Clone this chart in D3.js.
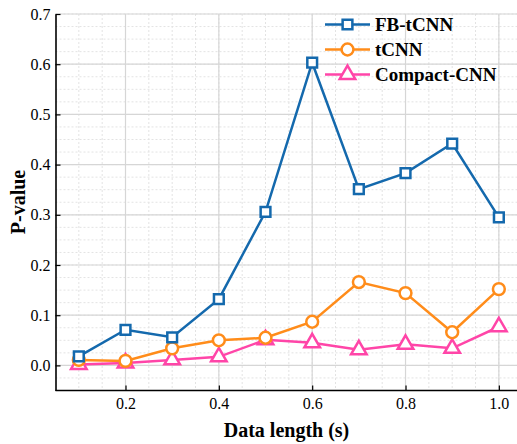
<!DOCTYPE html>
<html><head><meta charset="utf-8">
<script src="https://cdn.jsdelivr.net/npm/d3@7"></script>
<style>body{margin:0;background:#fff}svg{display:block}</style>
</head><body>
<svg id="c" width="517" height="444"></svg>
<script>
const xs = [0.1,0.2,0.3,0.4,0.5,0.6,0.7,0.8,0.9,1.0];
const fbtcnn = [0.018,0.071,0.056,0.132,0.306,0.603,0.351,0.383,0.442,0.295];
const tcnn = [0.011,0.009,0.034,0.050,0.055,0.087,0.166,0.144,0.066,0.152];
const compact = [0.002,0.005,0.011,0.017,0.051,0.045,0.031,0.042,0.034,0.077];
const seriesNames = ["FB-tCNN","tCNN","Compact-CNN"];
const colors = ["#1469ad","#ff8c1a","#ff45a8"];
const xTicks = [0.2,0.4,0.6,0.8,1.0];
const yTicks = [0.0,0.1,0.2,0.3,0.4,0.5,0.6,0.7];

const svg = d3.select("#c");
const L=55.5, T=14, B=390.5;
const x = d3.scaleLinear().domain([0.05,1.05]).range([L, L+466.7]);
const y = d3.scaleLinear().domain([-0.05,0.7]).range([B, T]);
const R = 517;
const font = "'Liberation Serif','Times New Roman',serif";

// minor grid
const g = svg.append("g");
d3.range(0.1,1.06,0.05).forEach(v=>{
  g.append("line").attr("x1",x(v)).attr("x2",x(v)).attr("y1",T).attr("y2",B)
   .attr("stroke","#e3e3e3").attr("stroke-width",1).attr("stroke-dasharray","2,2");});
d3.range(-0.025,0.7001,0.025).forEach(v=>{
  g.append("line").attr("x1",L).attr("x2",R).attr("y1",y(v)).attr("y2",y(v))
   .attr("stroke","#e3e3e3").attr("stroke-width",1).attr("stroke-dasharray","2,2");});
// major grid
xTicks.forEach(v=>g.append("line").attr("x1",x(v)).attr("x2",x(v)).attr("y1",T).attr("y2",B)
  .attr("stroke","#d6d6d6").attr("stroke-width",1.2));
yTicks.forEach(v=>g.append("line").attr("x1",L).attr("x2",R).attr("y1",y(v)).attr("y2",y(v))
  .attr("stroke","#d6d6d6").attr("stroke-width",1.2));

// axes
const xa = svg.append("g").attr("transform",`translate(0,${B})`)
  .call(d3.axisBottom(x).tickValues(xTicks).tickFormat(d3.format(".1f")).tickSizeInner(-5).tickSizeOuter(0).tickPadding(7));
const ya = svg.append("g").attr("transform",`translate(${L},0)`)
  .call(d3.axisLeft(y).tickValues(yTicks).tickFormat(d3.format(".1f")).tickSizeInner(-5).tickSizeOuter(0).tickPadding(5));
[xa,ya].forEach(a=>{
  a.select(".domain").attr("stroke","#000").attr("stroke-width",1.6);
  a.selectAll(".tick line").attr("stroke","#000").attr("stroke-width",1.2);
  a.selectAll("text").attr("font-family",font).attr("font-size",16).attr("fill","#000");
});
xa.select(".domain").attr("d",`M${L},0H${R}`);

// series
const data = [fbtcnn,tcnn,compact];
const line = d3.line().x((d,i)=>x(xs[i])).y(d=>y(d));
const shapes = [d3.symbolSquare, d3.symbolCircle, d3.symbolTriangle];
const sizes = [95, 110, 105];
const drawOrder = [2,1,0];
drawOrder.forEach(k=>{
  svg.append("path").datum(data[k]).attr("d",line).attr("fill","none")
    .attr("stroke",colors[k]).attr("stroke-width",2.5);
});
drawOrder.forEach(k=>{
  svg.append("g").selectAll("path").data(data[k]).join("path")
    .attr("d",d3.symbol().type(shapes[k]).size(sizes[k]))
    .attr("transform",(d,i)=>`translate(${x(xs[i])},${y(d)})`)
    .attr("fill","#fff").attr("stroke",colors[k]).attr("stroke-width",2.5);
});

// legend
const lg = svg.append("g");
seriesNames.forEach((n,k)=>{
  const yy = 24.5 + k*25;
  lg.append("line").attr("x1",325).attr("x2",370).attr("y1",yy).attr("y2",yy)
    .attr("stroke",colors[k]).attr("stroke-width",2.5);
  lg.append("path").attr("d",d3.symbol().type(shapes[k]).size(sizes[k]))
    .attr("transform",`translate(347.5,${yy})`).attr("fill","#fff")
    .attr("stroke",colors[k]).attr("stroke-width",2.5);
  lg.append("text").attr("x",375).attr("y",yy+6.5).text(n)
    .attr("font-family",font).attr("font-weight","bold").attr("font-size",19);
});

// axis labels
svg.append("text").attr("x",286.5).attr("y",437).attr("text-anchor","middle")
  .attr("font-family",font).attr("font-weight","bold").attr("font-size",20).text("Data length (s)");
svg.append("text").attr("transform","translate(25,202) rotate(-90)").attr("text-anchor","middle")
  .attr("font-family",font).attr("font-weight","bold").attr("font-size",20).text("P-value");
</script>
</body></html>
